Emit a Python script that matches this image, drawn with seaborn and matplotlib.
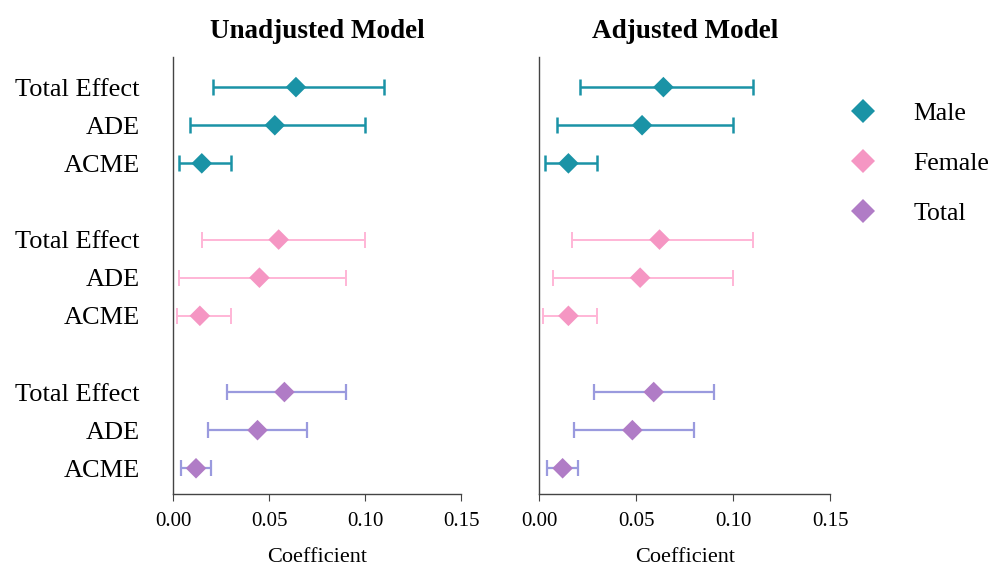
import matplotlib
matplotlib.use("Agg")
import matplotlib.pyplot as plt
import seaborn as sns
import pandas as pd

# ---------------------------------- DATOS ----------------------------------
efectos = ["Total Effect", "ADE", "ACME"]
grupos = ["Male", "Female", "Total"]

# Modelo sin ajustar (orden: Male, Female, Total x Total Effect, ADE, ACME)
unadj_est = [0.064, 0.053, 0.015, 0.055, 0.045, 0.014, 0.058, 0.044, 0.012]
unadj_low = [0.021, 0.009, 0.003, 0.015, 0.003, 0.002, 0.028, 0.018, 0.004]
unadj_high = [0.110, 0.100, 0.030, 0.100, 0.090, 0.030, 0.090, 0.070, 0.020]

# Modelo ajustado
adj_est = [0.064, 0.053, 0.015, 0.062, 0.052, 0.015, 0.059, 0.048, 0.012]
adj_low = [0.021, 0.009, 0.003, 0.017, 0.007, 0.002, 0.028, 0.018, 0.004]
adj_high = [0.110, 0.100, 0.030, 0.110, 0.100, 0.030, 0.090, 0.080, 0.020]

# Posiciones verticales (hueco entre grupos)
posiciones = [0, 1, 2, 4, 5, 6, 8, 9, 10]

# Colores: marcador y barra de error
color_marcador = {"Male": "#1a93a6", "Female": "#f596c3", "Total": "#b07cc6"}
color_barra = {"Male": "#1a93a6", "Female": "#ffb6d6", "Total": "#9a9ade"}
grosor_barra = {"Male": 1.8, "Female": 1.4, "Total": 1.6}


def arma_df(est, low, high):
    filas = []
    for i, (e, lo, hi) in enumerate(zip(est, low, high)):
        filas.append({"grupo": grupos[i // 3], "efecto": efectos[i % 3],
                      "pos": posiciones[i], "est": e, "low": lo, "high": hi})
    return pd.DataFrame(filas)


df_unadj = arma_df(unadj_est, unadj_low, unadj_high)
df_adj = arma_df(adj_est, adj_low, adj_high)

# ---------------------------------- GRAFICO ----------------------------------
sns.set_style("white")
plt.rcParams["font.family"] = ["Liberation Serif", "DejaVu Serif"]
plt.rcParams["text.color"] = "black"
plt.rcParams["axes.labelcolor"] = "black"
plt.rcParams["xtick.color"] = "black"
plt.rcParams["ytick.color"] = "black"

fig = plt.figure(figsize=(9.94, 5.70), dpi=100)
ax1 = fig.add_axes([0.174, 0.133, 0.290, 0.767])
ax2 = fig.add_axes([0.5426, 0.133, 0.2925, 0.767])

for ax, df, titulo in [(ax1, df_unadj, "Unadjusted Model"), (ax2, df_adj, "Adjusted Model")]:
    # Barras de error por grupo
    for g in grupos:
        sub = df[df["grupo"] == g]
        ax.errorbar(sub["est"], sub["pos"],
                    xerr=[sub["est"] - sub["low"], sub["high"] - sub["est"]],
                    fmt="none", ecolor=color_barra[g], elinewidth=grosor_barra[g],
                    capsize=6, capthick=grosor_barra[g], zorder=2)

    # Marcadores en forma de diamante
    sns.scatterplot(data=df, x="est", y="pos", hue="grupo", hue_order=grupos,
                    palette=color_marcador, marker="D", s=110, linewidth=0,
                    ax=ax, zorder=3, legend=(ax is ax2))

    ax.set_xlim(0, 0.15)
    ax.set_ylim(10.68, -0.79)
    ax.set_xticks([0.0, 0.05, 0.10, 0.15])
    ax.set_xticklabels(["0.00", "0.05", "0.10", "0.15"], fontsize=15)
    ax.set_xlabel("Coefficient", fontsize=16, labelpad=12)
    ax.set_ylabel("")
    ax.set_title(titulo, fontsize=19.5, fontweight="bold", pad=14)

    sns.despine(ax=ax)
    for lado in ["left", "bottom"]:
        ax.spines[lado].set_color("#444444")
        ax.spines[lado].set_linewidth(1.0)
    ax.tick_params(axis="x", which="both", bottom=True, length=5, color="#444444", pad=8)

ax1.set_yticks(posiciones)
ax1.set_yticklabels(efectos * 3, fontsize=19)
ax1.tick_params(axis="y", length=0, pad=24)
ax2.set_yticks([])

# Leyenda
handles, labels = ax2.get_legend_handles_labels()
ax2.legend(handles, labels, loc="upper left", bbox_to_anchor=(0.99, 0.95),
           frameon=False, fontsize=18.5, markerscale=1.2, handlelength=1.0,
           handletextpad=1.45, labelspacing=1.05)

fig.savefig("out.png", dpi=100)
